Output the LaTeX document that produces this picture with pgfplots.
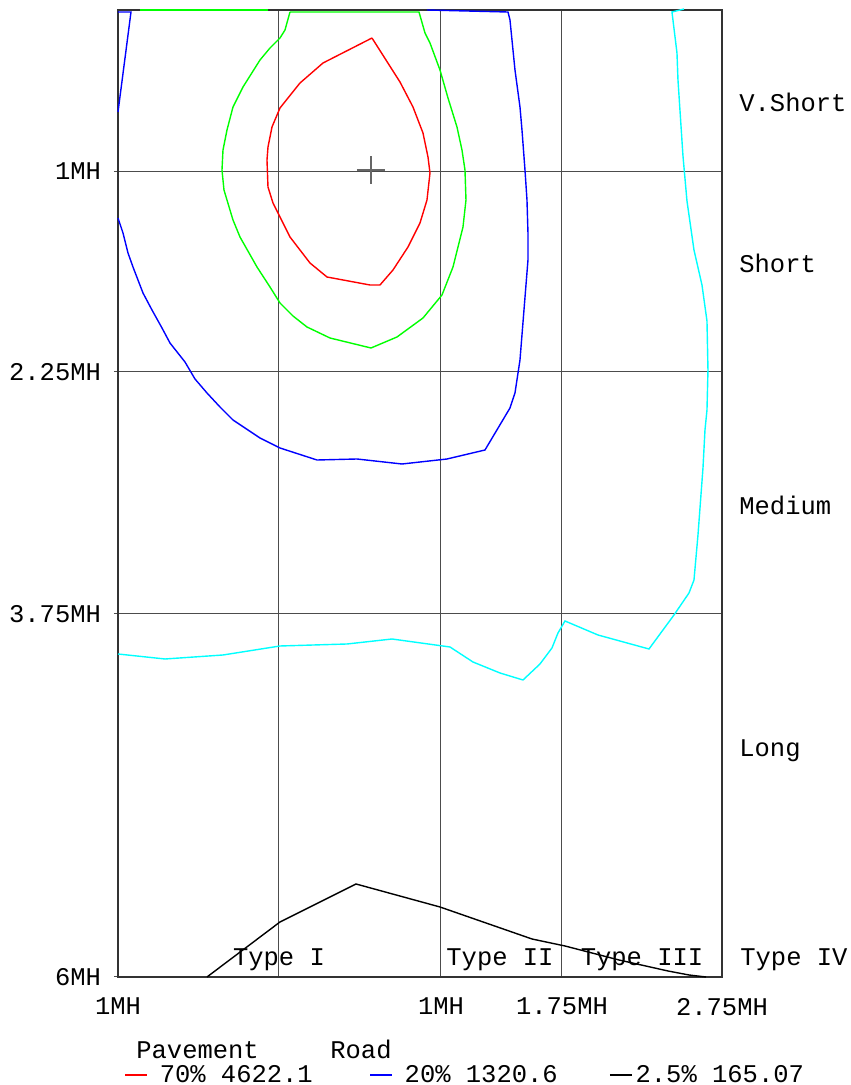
\documentclass[border=0pt]{standalone}
\usepackage{fontspec}
\setmainfont{Liberation Mono}
\usepackage{pgfplots}
\pgfplotsset{compat=1.18}

\definecolor{cRed}{RGB}{255,0,0}
\definecolor{cGreen}{RGB}{0,255,0}
\definecolor{cBlue}{RGB}{0,0,255}
\definecolor{cCyan}{RGB}{0,255,255}

% the 2.5% dash sits close to its text
\pgfplotsset{tightleg/.style={legend image code/.code={%
      \draw[##1, overlay] (-2.5pt,0pt) -- (8.5pt,0pt);
      \path (0pt,0pt) -- (4pt,0pt);}}}

% 1 px of the reference = 0.5pt
\begin{document}
\begin{tikzpicture}
  \begin{axis}[
      scale only axis,
      width=302pt, height=483.5pt,
      xmin=118, xmax=722, ymin=10, ymax=977,
      y dir=reverse,
      clip=false,
      font=\fontsize{12.75}{15}\selectfont,
      axis line style={black!80, line width=0.7pt},
      xtick={118,279,441,562,722},
      xticklabels={1MH,,1MH,1.75MH,2.75MH},
      ytick={171,372,614,977},
      yticklabels={1MH,2.25MH,3.75MH,6MH},
      grid=major,
      major grid style={black!70, line width=0.5pt},
      tick align=outside,
      major tick length=2pt,
      xtick style={draw=none},
      ytick pos=left,
      ytick style={black!70, line width=0.5pt},
      xticklabel style={yshift=-5pt},
      yticklabel style={xshift=-3pt},
      legend columns=3,
      legend image code/.code={\draw[#1] (0pt,0pt) -- (11pt,0pt);},
      legend style={
          at={(axis cs:124,1075)}, anchor=west,
          draw=none, fill=none, inner sep=0pt,
          nodes={inner ysep=0pt},
          font=\fontsize{12.75}{15}\selectfont,
          /tikz/every odd column/.style={column sep=4pt},
          /tikz/every even column/.style={column sep=26.25pt},
        },
    ]

    % 70% pavement
    \addplot[cRed, line width=0.7pt] coordinates {
        (372,38) (323,63) (300,83) (280,108) (272,127) (268,147) (267,160)
        (268,187) (273,203) (280,217) (290,237) (310,263) (327,277)
        (370,285) (380,285) (393,270) (408,247) (420,223) (427,200)
        (430,173) (428,157) (423,133) (413,107) (400,82) (372,38)
      };
    \addlegendentry{70\% 4622.1}

    % 20% road
    \addplot[cBlue, line width=0.7pt] coordinates {
        (118,218) (123,233) (128,253) (133,267) (143,293) (152,310)
        (162,328) (170,343) (185,362) (195,379) (207,393) (220,407)
        (233,420) (260,438) (280,448) (317,460) (357,459) (402,464)
        (447,459) (485,450) (510,408) (515,393) (520,360) (524,310)
        (528,260) (528,233) (527,200) (525,170) (522,130) (520,107)
        (515,70) (510,20) (508,12) (427,10)
      };
    \addlegendentry{20\% 1320.6}

    % 2.5%
    \addplot[black, line width=0.7pt, tightleg] coordinates {
        (207,977) (280,922) (356,884) (440,907) (486,923) (532,939)
        (565,946) (619,960) (668,971) (689,975) (706,977)
      };
    \addlegendentry{2.5\% 165.07}

    \addplot[cBlue, line width=0.7pt, forget plot] coordinates {
        (118,12) (131,12) (118,112)
      };

    \addplot[cGreen, line width=0.7pt, forget plot] coordinates {
        (290,12) (285,30) (280,38) (270,48) (260,60) (243,87) (233,107)
        (227,130) (223,150) (222,170) (224,190) (227,200) (233,220)
        (240,237) (257,267) (270,287) (280,303) (293,316) (307,327)
        (330,338) (371,348) (397,337) (423,318) (442,295) (453,267)
        (463,227) (466,200) (465,170) (462,150) (457,127) (448,98)
        (440,70) (430,43) (425,33) (419,12) (290,12)
      };
    \addplot[cGreen, line width=0.7pt, forget plot] coordinates {
        (140,10) (268,10)
      };

    \addplot[cCyan, line width=0.7pt, forget plot] coordinates {
        (684,9) (672,12) (677,53) (678,80) (683,156) (687,201) (694,250)
        (702,285) (707,321) (708,370) (707,410) (705,430) (703,468)
        (698,535) (694,580) (689,593) (674,615) (649,649) (598,635)
        (565,621) (558,633) (552,648) (540,664) (523,680) (500,673)
        (473,662) (450,647) (392,639) (347,644) (280,646) (223,655)
        (165,659) (118,654)
      };

    % luminaire position
    \addplot[black!60, only marks, mark=+, mark size=7pt,
      mark options={line width=0.6pt}, forget plot]
      coordinates {(371,170)};

    % labels
    \node[anchor=base west, inner sep=0pt] at (axis cs:739,111.5) {V.Short};
    \node[anchor=base west, inner sep=0pt] at (axis cs:739,273) {Short};
    \node[anchor=base west, inner sep=0pt] at (axis cs:739,515) {Medium};
    \node[anchor=base west, inner sep=0pt] at (axis cs:739,757) {Long};
    \node[anchor=base west, inner sep=0pt] at (axis cs:740,966) {Type IV};
    \node[anchor=base] at (axis cs:279,966) {Type I};
    \node[anchor=base] at (axis cs:500,966) {Type II};
    \node[anchor=base] at (axis cs:642,966) {Type III};
    \node[anchor=base west, inner sep=0pt] at (axis cs:136,1059) {Pavement};
    \node[anchor=base west, inner sep=0pt] at (axis cs:330,1059) {Road};

    \path (axis cs:0,0) rectangle (axis cs:851,1085);
  \end{axis}
\end{tikzpicture}
\end{document}
